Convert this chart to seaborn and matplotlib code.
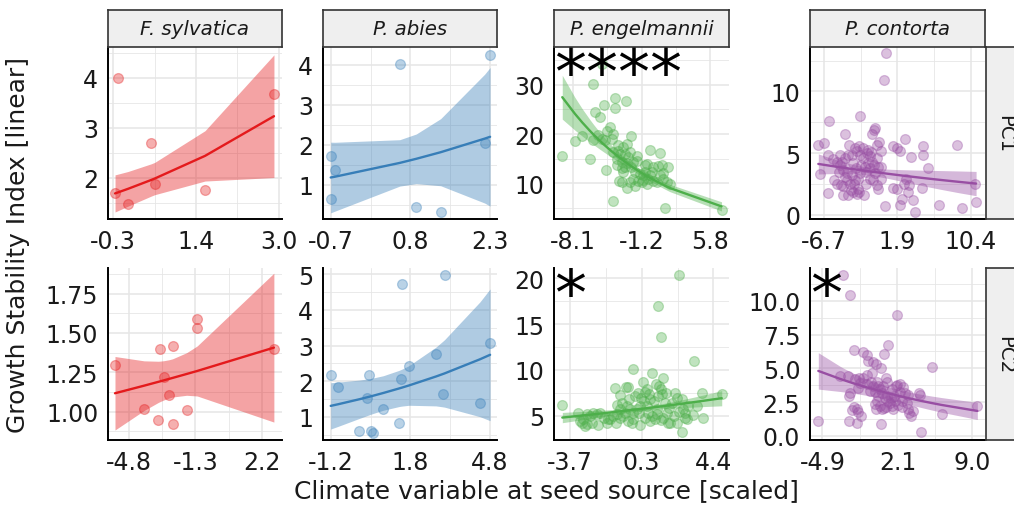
import numpy as np
import pandas as pd
import matplotlib
matplotlib.use("Agg")
import matplotlib.pyplot as plt
from matplotlib.ticker import FixedLocator
import seaborn as sns

sns.set_style("white")
plt.rcParams["font.family"] = ["DejaVu Sans"]

species = ["F. sylvatica", "P. abies", "P. engelmannii", "P. contorta"]
components = ["PC1", "PC2"]
palette = ["#E41A1C", "#377EB8", "#4DAF4A", "#984EA3"]
stars = {(0, 2): "****", (1, 2): "*", (1, 3): "*"}

# ---------------- data ----------------
fsyl_pc1_x = [-0.21, -0.26, 0.00, 0.46, 0.53, 1.53, 2.90]
fsyl_pc1_y = [4.00, 1.69, 1.47, 2.70, 1.87, 1.75, 3.67]

pabi_pc1_x = [-0.70, -0.62, -0.70, 0.60, 0.91, 1.37, 2.20, 2.30]
pabi_pc1_y = [1.73, 1.37, 0.63, 4.02, 0.45, 0.32, 2.05, 4.25]

peng_pc1_x = [-9.22, -6.13, -5.22, -3.86, -2.78, -4.98, -3.86, -5.90, -5.39, -4.37,
              -4.64, -7.18, -7.93, -6.07, -5.56, -5.22, -4.88, -4.03, -4.20, -3.52,
              -3.02, -2.68, -2.24, -6.40, -4.78, -4.03, -3.52, -3.35, -2.85, -2.34,
              -2.51, -2.00, -1.66, -0.30, 0.71, -3.63, -3.18, -2.68, -2.27, -1.83,
              -0.81, -0.57, 0.04, 0.48, 0.88, 0.98, 1.56, -0.98, -0.47, 0.04,
              0.37, -3.42, -3.18, -2.68, -1.15, -0.64, 1.39, 1.22, 6.98, -2.00,
              -1.49, -0.98, -0.30, -1.32, -3.02, -2.85, -3.69, -3.18, -4.03, -1.66,
              -0.81, -0.13, 0.71, 1.05, 1.73, -2.34, -1.83]
peng_pc1_y = [15.6, 30.1, 34.3, 27.3, 26.8, 25.9, 25.3, 24.4, 23.4, 21.5,
              20.7, 19.6, 18.5, 18.7, 19.9, 19.1, 18.7, 20.0, 19.0, 17.7,
              17.3, 17.9, 19.6, 14.9, 12.8, 6.3, 16.6, 16.0, 16.0, 16.3,
              15.3, 14.3, 14.6, 16.8, 16.1, 13.8, 13.1, 14.1, 13.3, 12.2,
              13.7, 13.9, 13.3, 13.6, 13.8, 12.0, 13.3, 11.6, 10.9, 10.5,
              10.3, 10.5, 10.2, 9.1, 10.2, 9.9, 10.2, 5.0, 4.6, 10.9,
              10.5, 10.7, 11.6, 11.9, 12.2, 13.3, 14.9, 14.3, 16.3, 15.6,
              12.2, 12.2, 11.6, 10.9, 9.9, 10.3, 9.5]

pcon_pc1_x = [0.54, 0.30, -6.12, -2.50, -7.36, -6.66, -7.17, -6.19, -4.95, -4.83,
              -4.25, -3.74, -3.47, -3.28, -3.00, -2.42, -2.11, -1.72, -1.33, -0.86,
              -0.75, -1.06, -0.24, -0.03, -0.47, -0.82, -1.33, -1.80, -2.50, -2.77,
              -3.16, -3.67, -3.98, -4.25, -4.52, -5.14, -5.53, -6.19, -5.69, -5.22,
              -4.83, -4.44, -4.05, -3.47, -3.08, -2.69, -2.58, -2.89, -3.28, -1.99,
              -1.80, -1.33, -0.94, -0.55, -0.36, -0.08, -0.75, -0.36, -0.03, -1.14,
              -1.60, -1.91, -2.50, -2.89, -3.08, -3.86, -4.25, -4.64, 1.32, 1.78,
              2.17, 2.75, 3.42, 4.90, 5.48, 4.70, 2.87, 2.64, 3.26, 3.14,
              2.37, 2.17, 3.73, 3.92, 1.78, 1.32, 0.42, 6.76, 9.37, 11.05,
              10.93, 8.79, 4.90, -2.58, -2.11, -1.52, -1.25, -0.47, -4.75, -4.44,
              -3.94, -3.59]
pcon_pc1_y = [13.1, 10.9, 7.6, 8.05, 5.68, 5.82, 3.31, 1.78, 3.50, 4.86,
              6.56, 5.68, 4.86, 4.18, 3.83, 4.04, 4.59, 5.00, 4.78, 6.91,
              7.05, 6.56, 5.90, 5.14, 4.64, 4.04, 3.77, 3.50, 3.36, 2.95,
              2.54, 2.54, 2.81, 3.09, 2.35, 2.54, 2.81, 4.86, 4.54, 4.32,
              4.04, 3.63, 3.36, 3.22, 2.81, 2.13, 1.86, 1.72, 1.86, 1.58,
              2.54, 2.95, 2.81, 2.40, 2.13, 2.95, 3.36, 3.91, 3.91, 4.32,
              4.18, 3.85, 4.86, 5.14, 5.41, 4.86, 4.59, 4.32, 5.55, 5.41,
              5.14, 6.17, 4.73, 4.86, 3.83, 2.19, 2.95, 2.54, 2.40, 1.86,
              1.31, 0.77, 1.17, 0.22, 2.13, 2.21, 0.71, 0.82, 0.55, 1.04,
              2.54, 5.68, 5.55, 5.55, 5.41, 5.27, 5.08, 5.68, 2.40, 1.58,
              1.58, 1.99]

fsyl_pc2_x = [-5.56, -4.02, -3.27, -3.18, -2.97, -2.70, -2.51, -2.51, -1.77, -1.24, -1.20, 2.85]
fsyl_pc2_y = [1.297, 1.017, 0.949, 1.400, 1.222, 1.106, 1.419, 0.922, 1.008, 1.589, 1.532, 1.398]

pabi_pc2_x = [-1.20, -0.91, -0.12, 0.18, 0.26, 0.31, 0.41, 0.78, 1.38, 1.45,
              1.49, 1.75, 2.76, 3.02, 3.09, 4.42, 4.80]
pabi_pc2_y = [2.18, 1.84, 0.60, 1.54, 2.17, 0.62, 0.56, 1.21, 0.83, 2.06,
              4.71, 2.43, 2.75, 1.64, 4.97, 1.38, 3.06]

peng_pc2_x = [-4.13, 2.48, 1.29, 1.44, 3.31, -0.16, 0.91, 1.54, 1.16, 0.44,
              0.63, -1.16, -0.54, -0.44, -0.88, -0.78, -1.03, -0.35, -0.03, 0.16,
              0.29, 0.54, 0.78, 1.35, 1.42, 1.29, 1.48, 1.72, 2.23, 2.33,
              2.61, 2.99, 3.23, 3.83, 3.74, 4.87, 2.70, 2.80, 2.61, 2.04,
              1.91, 1.76, 1.95, 1.57, 1.42, 1.20, 1.10, 0.91, 0.73, 0.63,
              0.48, 0.25, 0.07, -0.12, -0.31, -0.50, -0.59, -0.69, -0.88, -1.03,
              -1.25, -1.44, -1.59, -1.78, -2.00, -2.19, -2.38, -2.57, -2.76, -2.95,
              -3.14, -3.23, -3.04, -2.85, -2.76, -2.48, -2.10, -1.53, -1.10, -0.44,
              -0.16, 0.25, -0.22, 0.54, 0.82, 1.20, 1.67, 2.18, 2.48, 2.80,
              2.89, 3.46, 2.33, 1.86, -0.88, 0.22, 1.06, 0.82]
peng_pc2_y = [6.20, 20.38, 17.00, 13.55, 11.00, 10.09, 9.65, 9.11, 8.45, 8.64,
              7.98, 8.09, 8.20, 8.16, 7.29, 6.45, 6.16, 6.82, 7.18, 7.47,
              7.00, 7.65, 7.44, 8.27, 7.91, 7.18, 7.36, 7.47, 7.47, 6.93,
              6.82, 6.09, 5.07, 4.75, 7.47, 7.36, 5.73, 4.82, 3.25, 6.38,
              5.91, 5.36, 4.27, 4.82, 4.56, 5.18, 4.64, 5.00, 5.36, 6.09,
              6.64, 6.09, 5.73, 5.36, 5.80, 6.09, 5.36, 5.00, 4.82, 5.18,
              5.00, 4.64, 4.27, 4.82, 5.36, 5.18, 5.36, 5.00, 5.18, 4.64,
              4.45, 5.36, 4.20, 3.91, 4.09, 4.27, 3.98, 4.64, 4.27, 4.45,
              4.64, 4.02, 4.27, 4.82, 4.45, 5.73, 6.45, 5.00, 5.44, 5.36,
              4.64, 6.09, 4.27, 4.20, 5.73, 5.36, 6.64, 6.89]

pcon_pc2_x = [-2.96, -2.34, 1.98, -1.94, -1.17, -0.80, 1.15, 0.81, -0.64, -0.18,
              0.07, 0.50, 5.22, -3.26, -2.49, -1.88, -1.47, -1.10, -0.73, -0.33,
              -1.57, -0.80, -0.18, 0.19, 0.99, 1.12, 0.75, 0.44, -0.02, -0.49,
              -2.34, -2.40, 0.29, 0.59, 0.90, 1.43, 1.74, 1.92, 2.04, 2.29,
              2.54, 2.29, 2.75, 3.06, 4.08, 4.14, 1.83, 1.37, 1.52, 0.13,
              -0.02, 0.44, 0.59, 0.99, 2.45, 2.91, 3.16, 3.28, 3.46, 3.06,
              1.06, 0.81, -1.94, -1.72, -1.57, -2.18, -1.32, -2.40, -1.72, 0.50,
              -5.27, 4.20, 6.15, 9.45, 0.07, 2.45, 2.14, 1.67, 1.21, 1.52,
              0.29, -0.43, -1.41]
pcon_pc2_y = [11.93, 10.44, 8.94, 6.37, 6.22, 5.98, 6.72, 6.05, 5.56, 5.48,
              5.31, 5.06, 5.11, 4.44, 4.40, 4.20, 4.25, 4.32, 4.49, 4.62,
              3.58, 3.83, 3.70, 4.00, 4.32, 4.00, 3.70, 3.46, 3.26, 3.33,
              3.16, 2.96, 2.96, 3.16, 2.77, 2.77, 2.96, 3.70, 3.75, 3.83,
              3.65, 3.26, 3.21, 3.01, 3.16, 3.04, 2.59, 2.47, 2.22, 2.59,
              2.35, 2.22, 1.98, 2.17, 2.59, 2.47, 1.73, 1.48, 1.85, 1.98,
              2.96, 2.10, 2.17, 1.98, 1.78, 1.93, 1.48, 1.11, 0.99, 0.91,
              1.11, 0.30, 1.60, 2.22, 1.98, 2.17, 2.27, 2.02, 2.59, 3.46,
              3.70, 4.00, 3.95]

# fitted log-link curves: fitted value at smallest / largest x,
# and relative 95% half-width sqrt(s0^2 + (s1*(x-xc))^2)   (order: PC1 row, then PC2 row)
fit_start = [1.69, 1.18, 27.5, 4.13, 1.117, 1.31, 4.82, 4.81]
fit_end = [3.23, 2.20, 5.3, 2.54, 1.407, 2.74, 6.93, 1.85]
band_s0 = [0.16, 0.37, 0.05, 0.09, 0.10, 0.28, 0.035, 0.15]
band_s1 = [0.156, 0.45, 0.02, 0.03, 0.06, 0.17, 0.025, 0.0368]
band_xc = [0.7, 0.75, -1.5, -1.5, -2.5, 1.2, 0.3, 1.15]

xtick_labels = [["-0.3", "1.4", "3.0"], ["-0.7", "0.8", "2.3"], ["-8.1", "-1.2", "5.8"], ["-6.7", "1.9", "10.4"],
                ["-4.8", "-1.3", "2.2"], ["-1.2", "1.8", "4.8"], ["-3.7", "0.3", "4.4"], ["-4.9", "2.1", "9.0"]]
xtick_values = [[-0.3, 1.35, 3.0], [-0.7, 0.8, 2.3], [-8.1, -1.15, 5.8], [-6.7, 1.85, 10.4],
                [-4.8, -1.3, 2.2], [-1.2, 1.8, 4.8], [-3.7, 0.35, 4.4], [-4.9, 2.05, 9.0]]
ytick_values = [[2, 3, 4], [1, 2, 3, 4], [10, 20, 30], [0, 5, 10],
                [1.0, 1.25, 1.5, 1.75], [1, 2, 3, 4, 5], [5, 10, 15, 20], [0, 2.5, 5, 7.5, 10]]
ytick_fmt = ["{:.0f}"] * 4 + ["{:.2f}", "{:.0f}", "{:.0f}", "{:.1f}"]

panel_x = [fsyl_pc1_x, pabi_pc1_x, peng_pc1_x, pcon_pc1_x, fsyl_pc2_x, pabi_pc2_x, peng_pc2_x, pcon_pc2_x]
panel_y = [fsyl_pc1_y, pabi_pc1_y, peng_pc1_y, pcon_pc1_y, fsyl_pc2_y, pabi_pc2_y, peng_pc2_y, pcon_pc2_y]

# ---------------- layout ----------------
W, H = 1014, 506
cols_px = [(108, 282), (323, 497), (554, 729), (810, 985)]
rows_px = [(48, 220), (269, 441)]
xlims = [(-0.40, 3.06), (-0.845, 2.43), (-10.06, 7.74), (-8.33, 12.09),
         (-5.93, 3.28), (-1.49, 5.06), (-4.60, 5.28), (-6.04, 10.16)]
ylims = [(1.18, 4.61), (0.14, 4.45), (2.74, 37.7), (-0.33, 13.6),
         (0.82, 1.913), (0.355, 5.17), (2.38, 21.1), (-0.3, 12.42)]


def rect(x0, x1, y0, y1):
    return [x0 / W, 1 - y1 / H, (x1 - x0) / W, (y1 - y0) / H]


def minors(ticks, lim):
    step = ticks[1] - ticks[0]
    vals = []
    v = ticks[0] - step / 2
    while v - step > lim[0]:
        v -= step
    while v < lim[1]:
        if v > lim[0]:
            vals.append(v)
        v += step
    return vals


fig = plt.figure(figsize=(W / 100, H / 100), dpi=100)
strip_fc = "#EFEFEF"
grid_c = "#E6E6E6"
txt_c = "#1a1a1a"

for r, comp in enumerate(components):
    for c, sp in enumerate(species):
        i = r * 4 + c
        col = palette[c]
        x0, x1 = cols_px[c]
        y0, y1 = rows_px[r]
        ax = fig.add_axes(rect(x0, x1, y0, y1))
        df = pd.DataFrame({"x": panel_x[i], "y": panel_y[i]})

        # fitted curve evaluated at the observed x values
        xs = np.unique(df["x"].values)
        xa, xb = xs.min(), xs.max()
        b = np.log(fit_end[i] / fit_start[i]) / (xb - xa)
        mu = fit_start[i] * np.exp(b * (xs - xa))
        rel = np.sqrt(band_s0[i] ** 2 + (band_s1[i] * (xs - band_xc[i])) ** 2)
        lo, hi = mu * (1 - rel), mu * (1 + rel)

        sns.scatterplot(data=df, x="x", y="y", ax=ax, color=col, alpha=0.35,
                        edgecolor=col, linewidth=0.9, s=50, zorder=3, legend=False)
        ax.fill_between(xs, lo, hi, color=col, alpha=0.4, linewidth=0, zorder=4)
        sns.lineplot(x=xs, y=mu, ax=ax, color=col, linewidth=1.7, zorder=5,
                     estimator=None, sort=True)

        ax.set_xlim(*xlims[i])
        ax.set_ylim(*ylims[i])
        ax.set_xticks(xtick_values[i])
        ax.set_xticklabels(xtick_labels[i])
        ax.set_yticks(ytick_values[i])
        ax.set_yticklabels([ytick_fmt[i].format(v) for v in ytick_values[i]])
        ax.xaxis.set_minor_locator(FixedLocator(minors(xtick_values[i], xlims[i])))
        ax.yaxis.set_minor_locator(FixedLocator(minors(ytick_values[i], ylims[i])))
        ax.grid(True, which="major", color=grid_c, linewidth=1.1, zorder=0)
        ax.grid(True, which="minor", color=grid_c, linewidth=0.6, zorder=0)
        ax.set_axisbelow(True)
        ax.set_xlabel("")
        ax.set_ylabel("")
        for s in ["top", "right"]:
            ax.spines[s].set_visible(False)
        for s in ["left", "bottom"]:
            ax.spines[s].set_color("black")
            ax.spines[s].set_linewidth(1.4)
        ax.tick_params(which="major", length=4.5, width=1.2, color="black",
                       labelsize=17, pad=2.5, labelcolor=txt_c)
        ax.tick_params(which="minor", length=0)
        ax.set_facecolor("white")

        if (r, c) in stars:
            ax.text(0.0, 0.73, stars[(r, c)], transform=ax.transAxes, ha="left",
                    va="baseline", fontsize=46, color="black", zorder=6)

        # top strips
        if r == 0:
            sax = fig.add_axes(rect(x0, x1, 11, 48))
            sax.set_facecolor(strip_fc)
            sax.set_xticks([]); sax.set_yticks([])
            for s in sax.spines.values():
                s.set_color("#333333"); s.set_linewidth(1.2)
            sax.text(0.5, 0.5, sp, ha="center", va="center", fontsize=14.2,
                     style="italic", color=txt_c, transform=sax.transAxes)
        # right strips
        if c == 3:
            rax = fig.add_axes(rect(986, 1023, y0, y1))
            rax.set_facecolor(strip_fc)
            rax.set_xticks([]); rax.set_yticks([])
            for s in rax.spines.values():
                s.set_color("#333333"); s.set_linewidth(1.2)
            rax.text(0.5, 0.5, comp, ha="center", va="center", fontsize=14.2,
                     rotation=270, color=txt_c, transform=rax.transAxes)

fig.text(546 / W, 1 - 491 / H, "Climate variable at seed source [scaled]",
         ha="center", va="center", fontsize=18, color=txt_c)
fig.text(18 / W, 1 - 245 / H, "Growth Stability Index [linear]",
         ha="center", va="center", rotation=90, fontsize=18, color=txt_c)

fig.savefig("out.png", dpi=100)
